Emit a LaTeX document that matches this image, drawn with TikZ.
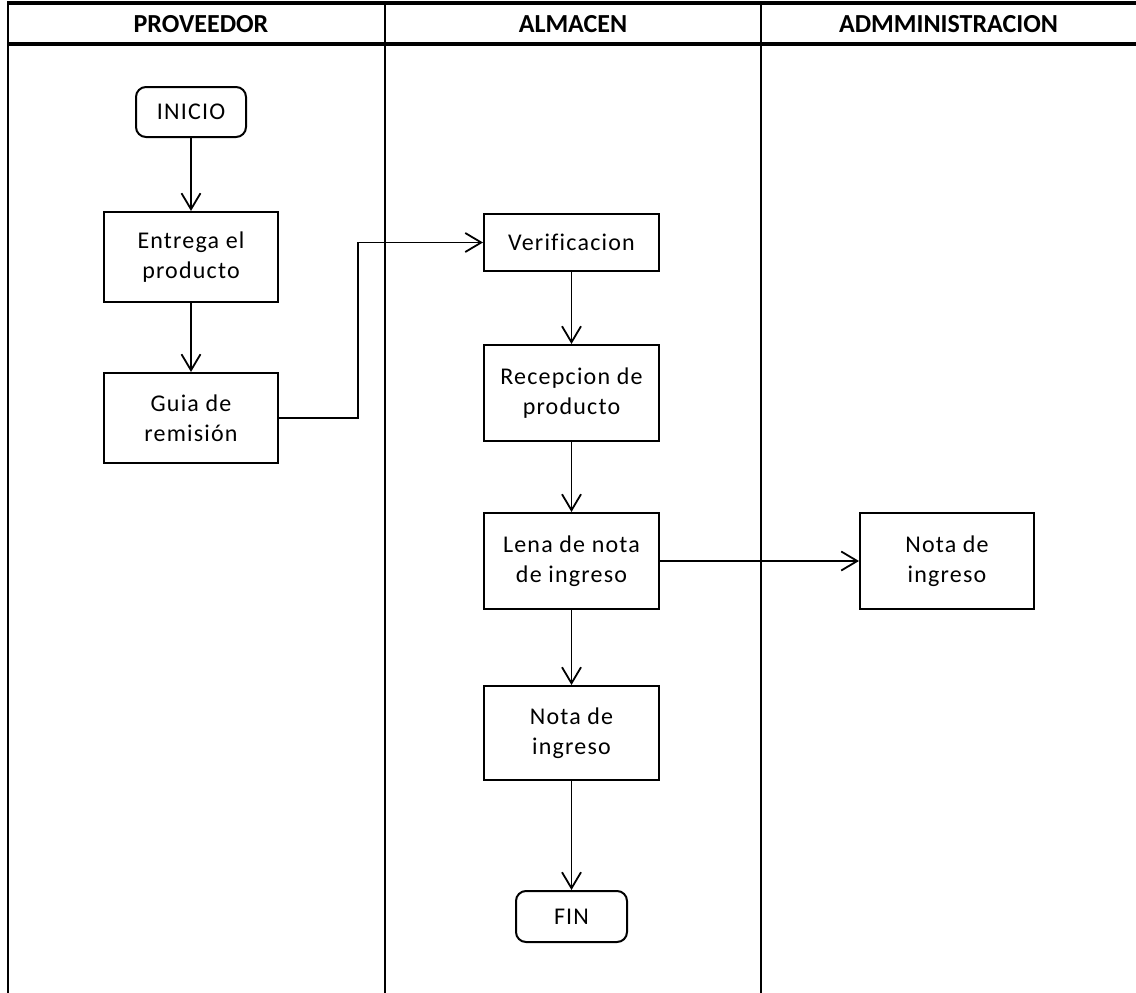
\documentclass[tikz,border=0pt]{standalone}
\usepackage{fontspec}
\setmainfont{Carlito}
\newfontfamily\boxfont[LetterSpace=5,Ligatures={NoCommon}]{Carlito}
\usetikzlibrary{arrows.meta}
\tikzset{
  lane/.style={line width=2.8pt},
  rule/.style={line width=4.5pt},
  head/.style={font=\bfseries\fontsize{26}{30}\selectfont},
  proc/.style={draw, line width=2pt, align=center, inner sep=0pt,
    font=\boxfont\fontsize{24}{30}\selectfont},
  term/.style={proc, rounded corners=10pt},
  arr/.style={line width=1.8pt, -{Straight Barb[length=16pt,width=19pt,line width=1.8pt]}}
}
\begin{document}
\begin{tikzpicture}[x=1pt,y=-1pt]
  \useasboundingbox (0,0) rectangle (1136,993);
  \begin{scope}
    \clip (0,0) rectangle (1136,993);
    % swimlane frame
    \draw[rule] (8,3) -- (1140,3);
    \draw[rule] (8,44) -- (1140,44);
    \draw[lane] (8,1) -- (8,995);
    \draw[lane] (385,3) -- (385,995);
    \draw[lane] (761,3) -- (761,995);
  \end{scope}
  \node[head] (h1) at (201,24) {PROVEEDOR};
  \node[head] (h2) at (573,24) {ALMACEN};
  \node[head] (h3) at (948.5,24) {ADMMINISTRACION};

  % flow nodes
  \node[term, minimum width=110pt, minimum height=50pt] (inicio) at (191,112) {INICIO};
  \node[proc, minimum width=174pt, minimum height=90pt] (entrega) at (191,257) {Entrega el\\producto};
  \node[proc, minimum width=174pt, minimum height=90pt] (guia) at (191,418) {Guia de\\remisión};
  \node[proc, minimum width=175pt, minimum height=57pt] (verif) at (571.5,242.5) {Verificacion};
  \node[proc, minimum width=175pt, minimum height=96pt] (recep) at (571.5,393) {Recepcion de\\producto};
  \node[proc, minimum width=175pt, minimum height=96pt] (lena) at (571.5,561) {Lena de nota\\de ingreso};
  \node[proc, minimum width=174pt, minimum height=96pt] (notaadm) at (947,561) {Nota de\\ingreso};
  \node[proc, minimum width=175pt, minimum height=94pt] (nota) at (571.5,733) {Nota de\\ingreso};
  \node[term, minimum width=111pt, minimum height=51pt] (fin) at (571.5,916.5) {FIN};

  % connectors
  \draw[arr] (inicio) -- (entrega);
  \draw[arr] (entrega) -- (guia);
  \draw[arr] (guia.east) -- ++(79,0) |- (verif.west);
  \draw[arr] (verif) -- (recep);
  \draw[arr] (recep) -- (lena);
  \draw[arr] (lena) -- (notaadm);
  \draw[arr] (lena) -- (nota);
  \draw[arr] (nota) -- (fin);
\end{tikzpicture}
\end{document}
